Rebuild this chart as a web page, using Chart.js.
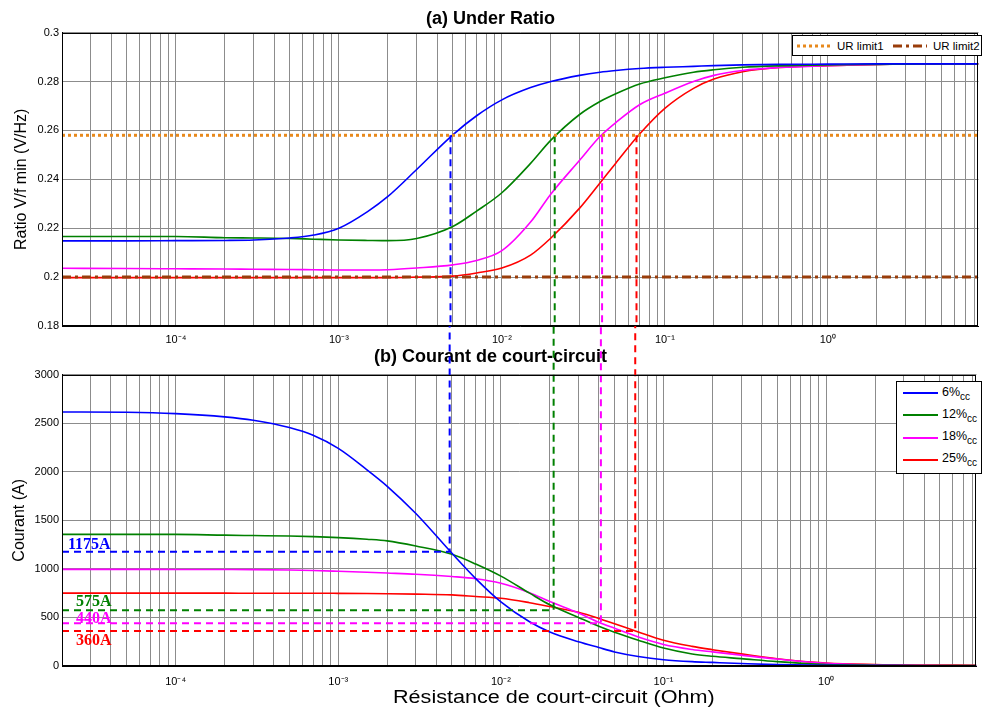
<!DOCTYPE html>
<html>
<head>
<meta charset="utf-8">
<title>Under Ratio / Courant de court-circuit</title>
<script src="https://cdn.jsdelivr.net/npm/chart.js@4.4.1/dist/chart.umd.min.js"></script>
<style>
  body { margin: 0; background: #fff; font-family: 'Liberation Sans', Arial, sans-serif; }
  #wrap { position: relative; width: 982px; height: 710px; overflow: hidden; }
  canvas { position: absolute; left: 0; }
  #c1 { top: 0; }
  #c2 { top: 326px; }
  .legend { position: absolute; background: #fff; border: 1px solid #000; box-sizing: border-box; z-index: 2; }
  #leg1 { left: 792px; top: 35px; width: 190px; height: 21px; font-size: 11.5px; }
  #leg1 .item { position: absolute; top: 2px; height: 16px; display: flex; align-items: center; }
  #leg1 svg { margin-right: 6px; }
  #leg2 { left: 896px; top: 381px; width: 86px; height: 93px; font-size: 12.5px; }
  #leg2 .row { position: absolute; left: 6px; height: 18px; display: flex; align-items: center; white-space: nowrap; }
  #leg2 .swatch { display: inline-block; width: 35px; height: 2px; margin-right: 4px; }
  #leg2 sub { font-size: 10px; vertical-align: -4px; }
  #xlabel { position: absolute; left: 393px; top: 687px; font-size: 18px; white-space: nowrap;
            transform: scaleX(1.2); transform-origin: left center; z-index: 2; }
</style>
</head>
<body>
<div id="wrap">
  <canvas id="c1" width="982" height="352"></canvas>
  <canvas id="c2" width="982" height="384"></canvas>
  <div class="legend" id="leg1"></div>
  <div class="legend" id="leg2"></div>
  <div id="xlabel">Résistance de court-circuit (Ohm)</div>
</div>
<script>
// x axis: short-circuit resistance (Ohm), log scale
const xMin = 2e-5;
const xMax = 8.4;
const resistance = [2e-5, 5e-5, 1e-4, 2e-4, 3e-4, 5e-4, 7e-4, 1e-3, 1.5e-3, 2e-3, 3e-3, 5e-3, 7e-3,
  1e-2, 1.5e-2, 2e-2, 3e-2, 4e-2, 5e-2, 7e-2, 0.1, 0.15, 0.2, 0.3, 0.5, 1, 2, 4, 8.4];

const seriesLabels = ['6%', '12%', '18%', '25%'];
const seriesColors = ['#0000ff', '#008000', '#ff00ff', '#ff0000'];

// (a) ratio V/f min (V/Hz)
const ratio6  = [0.2148, 0.2148, 0.2149, 0.2150, 0.2152, 0.2160, 0.2172, 0.2200, 0.2268, 0.2330, 0.2440, 0.2582, 0.2660,
  0.2725, 0.2775, 0.2800, 0.2825, 0.2838, 0.2845, 0.2853, 0.2858, 0.2862, 0.2865, 0.2868, 0.2870, 0.2871, 0.2872, 0.2872, 0.2872];
const ratio12 = [0.2166, 0.2166, 0.2166, 0.2161, 0.2160, 0.2158, 0.2155, 0.2152, 0.2150, 0.2149, 0.2158, 0.2207, 0.2270,
  0.2345, 0.2465, 0.2560, 0.2665, 0.2718, 0.2750, 0.2790, 0.2815, 0.2838, 0.2848, 0.2858, 0.2864, 0.2868, 0.2870, 0.2872, 0.2872];
const ratio18 = [0.2036, 0.2035, 0.2034, 0.2033, 0.2032, 0.2031, 0.2030, 0.2029, 0.2029, 0.2030, 0.2037, 0.2050, 0.2068,
  0.2108, 0.2225, 0.2340, 0.2478, 0.2575, 0.2632, 0.2705, 0.2752, 0.2800, 0.2825, 0.2845, 0.2857, 0.2865, 0.2870, 0.2872, 0.2872];
const ratio25 = [0.1998, 0.1998, 0.1998, 0.1998, 0.1998, 0.1998, 0.1998, 0.1998, 0.1998, 0.1998, 0.2000, 0.2004, 0.2017,
  0.2037, 0.2090, 0.2160, 0.2282, 0.2385, 0.2466, 0.2585, 0.2690, 0.2772, 0.2810, 0.2840, 0.2857, 0.2865, 0.2870, 0.2872, 0.2872];

const limitLabels = ['UR limit1', 'UR limit2'];
const limit1 = 0.258;
const limit2 = 0.2;

// (b) courant (A)
const current6  = [2615, 2612, 2598, 2565, 2530, 2455, 2375, 2240, 2020, 1850, 1570, 1160, 900,
  660, 455, 350, 250, 190, 145, 98, 65, 45, 37, 26, 14, 6, 4, 3, 2];
const current12 = [1355, 1355, 1355, 1347, 1343, 1338, 1332, 1322, 1305, 1288, 1235, 1150, 1050,
  925, 750, 630, 500, 410, 348, 265, 185, 124, 100, 76, 45, 15, 8, 5, 4];
const current18 = [995, 995, 994, 993, 992, 988, 983, 975, 965, 957, 945, 921, 899,
  852, 755, 663, 545, 450, 388, 298, 222, 170, 145, 112, 72, 28, 12, 7, 5];
const current25 = [750, 750, 750, 750, 749, 749, 749, 748, 746, 744, 740, 732, 716,
  698, 652, 612, 553, 490, 435, 350, 265, 202, 168, 125, 75, 30, 15, 10, 8];

// read-off points where each curve crosses UR limit1
const crossR = [0.00484, 0.0211, 0.0412, 0.067];
const crossI = [1175, 575, 440, 360];
const crossLabels = ['1175A', '575A', '440A', '360A'];

Chart.defaults.font.family = "'Liberation Sans', Arial, sans-serif";
Chart.defaults.color = '#000';

const pts = (ys) => resistance.map((r, i) => ({ x: r, y: ys[i] }));

// log tick positions 1..9 x 10^n inside the range
const xTickValues = [];
for (let e = -5; e <= 0; e++) {
  for (let m = 1; m <= 9; m++) {
    const v = m * Math.pow(10, e);
    if (v > xMin * 1.0001 && v < xMax) xTickValues.push(v);
  }
}
const supMap = { '-': '\u207B', '0': '\u2070', '1': '\u00B9', '2': '\u00B2', '3': '\u00B3', '4': '\u2074', '5': '\u2075' };
function decadeLabel(v) {
  const e = Math.log10(v);
  if (Math.abs(e - Math.round(e)) > 1e-6) return '';
  return '10' + String(Math.round(e)).split('').map(c => supMap[c]).join('');
}

function xAxis(height, pad) {
  return {
    type: 'logarithmic',
    min: xMin,
    max: xMax,
    afterBuildTicks: (scale) => { scale.ticks = xTickValues.map(v => ({ value: v })); },
    afterFit: (scale) => { scale.height = height; },
    ticks: { autoSkip: false, maxRotation: 0, minRotation: 0, padding: pad, font: { size: 11 }, callback: decadeLabel },
    grid: { color: '#8c8c8c', drawTicks: false },
    border: { color: '#000' }
  };
}

// box round the plot area, like matlab
const frame = {
  id: 'frame',
  afterDraw(chart) {
    const { ctx, chartArea: a } = chart;
    ctx.save();
    ctx.strokeStyle = '#000';
    ctx.lineWidth = 1;
    ctx.strokeRect(Math.round(a.left) + 0.5, Math.round(a.top) + 0.5,
      Math.round(a.right - a.left) - 1, Math.round(a.bottom - a.top) - 1);
    ctx.restore();
  }
};

const curve = (label, data, color) => ({
  label, data, borderColor: color, borderWidth: 1.6, pointRadius: 0, cubicInterpolationMode: 'monotone'
});

// ---------- (a) Under Ratio ----------
const topSets = [
  { label: limitLabels[0], data: [{ x: xMin, y: limit1 }, { x: xMax, y: limit1 }], borderColor: '#e8891c', borderWidth: 3, borderDash: [3, 3], pointRadius: 0 },
  { label: limitLabels[1], data: [{ x: xMin, y: limit2 }, { x: xMax, y: limit2 }], borderColor: '#993d0a', borderWidth: 3, borderDash: [9, 4, 3, 4], pointRadius: 0 }
];
crossR.forEach((r, i) => topSets.push({
  label: 'v' + i, data: [{ x: r, y: limit1 }, { x: r, y: 0.18 }],
  borderColor: seriesColors[i], borderWidth: 2, borderDash: [7, 5], pointRadius: 0
}));
[ratio6, ratio12, ratio18, ratio25].forEach((s, i) => topSets.push(curve(seriesLabels[i], pts(s), seriesColors[i])));

new Chart(document.getElementById('c1'), {
  type: 'line',
  data: { datasets: topSets },
  options: {
    responsive: false,
    animation: false,
    events: [],
    layout: { padding: { left: 0, right: 1, top: 0, bottom: 0 } },
    plugins: {
      legend: { display: false },
      tooltip: { enabled: false },
      title: { display: true, text: '(a) Under Ratio', font: { size: 18, weight: 'bold' }, padding: { top: 8, bottom: 3 } }
    },
    scales: {
      x: xAxis(26, 7),
      y: {
        min: 0.18, max: 0.3,
        afterFit: (scale) => { scale.width = 62; },
        ticks: { stepSize: 0.02, padding: 3, font: { size: 11 }, callback: (v) => String(+v.toFixed(2)) },
        grid: { color: '#8c8c8c', drawTicks: false },
        border: { color: '#000' },
        title: { display: true, text: 'Ratio V/f min (V/Hz)', font: { size: 16 }, padding: { top: 12, bottom: 0 } }
      }
    }
  },
  plugins: [frame]
});

// ---------- (b) Courant de court-circuit ----------
const labelX = [68, 76, 76, 76];
const labelDy = [-7, -8, -4, 10];
const crossText = {
  id: 'crossText',
  afterDatasetsDraw(chart) {
    const { ctx, scales: { y } } = chart;
    ctx.save();
    ctx.font = 'bold 16px "Liberation Serif", "Times New Roman", serif';
    ctx.textBaseline = 'middle';
    crossLabels.forEach((t, i) => {
      ctx.fillStyle = seriesColors[i];
      ctx.fillText(t, labelX[i], y.getPixelForValue(crossI[i]) + labelDy[i]);
    });
    ctx.restore();
  }
};

const botSets = [];
crossR.forEach((r, i) => botSets.push({
  label: crossLabels[i],
  data: [{ x: xMin, y: crossI[i] }, { x: r, y: crossI[i] }, { x: r, y: 4000 }],
  borderColor: seriesColors[i], borderWidth: 2, borderDash: [7, 5], pointRadius: 0, clip: false
}));
[current6, current12, current18, current25].forEach((s, i) => botSets.push(curve(seriesLabels[i], pts(s), seriesColors[i])));

new Chart(document.getElementById('c2'), {
  type: 'line',
  data: { datasets: botSets },
  options: {
    responsive: false,
    animation: false,
    events: [],
    layout: { padding: { left: 0, right: 1, top: 0, bottom: 0 } },
    plugins: {
      legend: { display: false },
      tooltip: { enabled: false },
      title: { display: true, text: '(b) Courant de court-circuit', font: { size: 18, weight: 'bold' }, padding: { top: 20, bottom: 7 } }
    },
    scales: {
      x: xAxis(44, 9),
      y: {
        min: 0, max: 3000,
        afterFit: (scale) => { scale.width = 62; },
        ticks: { stepSize: 500, padding: 3, font: { size: 11 }, callback: (v) => String(v) },
        grid: { color: '#8c8c8c', drawTicks: false },
        border: { color: '#000' },
        title: { display: true, text: 'Courant (A)', font: { size: 16 }, padding: { top: 10, bottom: 0 } }
      }
    }
  },
  plugins: [frame, crossText]
});

// ---------- legends ----------
const leg1 = document.getElementById('leg1');
const limitStyles = [{ color: '#e8891c', dash: '3 3', x: 4 }, { color: '#993d0a', dash: '9 4 3 4', x: 100 }];
limitLabels.forEach((lab, i) => {
  const st = limitStyles[i];
  const item = document.createElement('div');
  item.className = 'item';
  item.style.left = st.x + 'px';
  item.innerHTML = '<svg width="34" height="6"><line x1="0" y1="3" x2="34" y2="3" stroke="' + st.color +
    '" stroke-width="3" stroke-dasharray="' + st.dash + '"/></svg><span>' + lab + '</span>';
  leg1.appendChild(item);
});

const leg2 = document.getElementById('leg2');
seriesLabels.forEach((lab, i) => {
  const row = document.createElement('div');
  row.className = 'row';
  row.style.top = (2 + i * 22.3) + 'px';
  row.innerHTML = '<span class="swatch" style="background:' + seriesColors[i] + '"></span><span>' + lab + '<sub>cc</sub></span>';
  leg2.appendChild(row);
});
</script>
</body>
</html>
